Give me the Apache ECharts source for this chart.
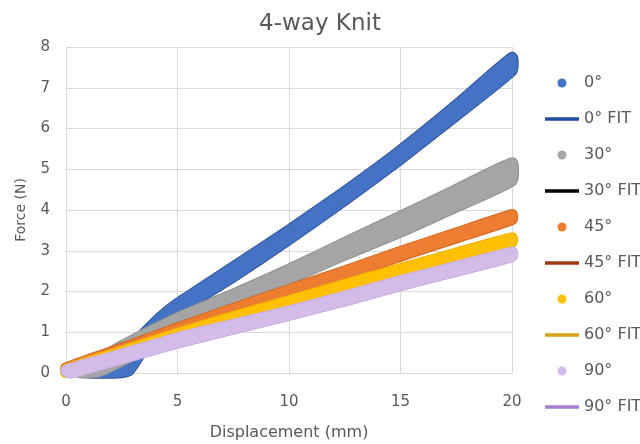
<!DOCTYPE html>
<html>
<head>
<meta charset="utf-8">
<script src="https://cdn.jsdelivr.net/npm/echarts@6/dist/echarts.min.js"></script>
<style>
  html, body { margin: 0; padding: 0; background: #ffffff; }
  #chart { width: 640px; height: 444px; }
</style>
</head>
<body>
<div id="chart"></div>
<script>
// Axis ticks
const xTicks = [0, 5, 10, 15, 20];
const yTicks = [0, 1, 2, 3, 4, 5, 6, 7, 8];

// Measured force (N) vs displacement (mm): loading branch, then unloading branch
const load0 = [[1.1, 0], [2.2, 0.02], [2.7, 0.3], [3.3, 0.85], [4.2, 1.35], [5, 1.7], [7.5, 2.6], [10, 3.5], [12.5, 4.45], [15, 5.46], [17.5, 6.57], [20, 7.74]];
const unload0 = [[20, 7.42], [17.5, 6.32], [15, 5.25], [12.5, 4.24], [10, 3.28], [7.5, 2.36], [5, 1.5], [4, 1.05], [3.3, 0.45], [2.8, 0.05], [2.2, 0], [1.4, 0]];

const load30 = [[0.5, 0.04], [1.5, 0.35], [2.5, 0.66], [3.5, 0.95], [5, 1.35], [7.5, 1.93], [10, 2.54], [12.5, 3.2], [15, 3.84], [17.5, 4.5], [20, 5.15]];
const unload30 = [[20, 4.72], [17.5, 4.08], [15, 3.46], [12.5, 2.9], [10, 2.3], [7.5, 1.72], [5, 1.13], [3.5, 0.62], [2.5, 0.3], [1.5, 0.04], [0.8, 0]];

const load45 = [[0, 0.12], [1, 0.32], [2.5, 0.6], [5, 1.1], [7.5, 1.58], [10, 2.04], [12.5, 2.5], [15, 2.98], [17.5, 3.43], [20, 3.88]];
const unload45 = [[20, 3.77], [17.5, 3.32], [15, 2.87], [12.5, 2.4], [10, 1.95], [7.5, 1.5], [5, 1.02], [2.5, 0.52], [1, 0.24], [0, 0.05]];

const load60 = [[0, 0.08], [1, 0.27], [2.5, 0.53], [5, 0.97], [7.5, 1.38], [10, 1.77], [12.5, 2.17], [15, 2.56], [17.5, 2.94], [20, 3.31]];
const unload60 = [[20, 3.22], [17.5, 2.85], [15, 2.47], [12.5, 2.08], [10, 1.69], [7.5, 1.3], [5, 0.89], [2.5, 0.45], [1, 0.2], [0, 0.02]];

const load90 = [[0, 0.06], [1, 0.23], [2.5, 0.46], [5, 0.86], [7.5, 1.19], [10, 1.52], [12.5, 1.88], [15, 2.26], [17.5, 2.61], [20, 2.96]];
const unload90 = [[20, 2.86], [17.5, 2.5], [15, 2.15], [12.5, 1.77], [10, 1.42], [7.5, 1.08], [5, 0.74], [2.5, 0.35], [1, 0.12], [0.2, 0]];

// Linear fits (end points)
const fit0 = [[3, 0.6], [20, 7.58]];
const fit30 = [[0.5, 0.05], [20, 4.94]];
const fit45 = [[0, 0.08], [20, 3.82]];
const fit60 = [[0, 0.05], [20, 3.26]];
const fit90 = [[0.1, 0.03], [20, 2.91]];

const names = ['0°', '30°', '45°', '60°', '90°'];
const fitNames = ['0° FIT', '30° FIT', '45° FIT', '60° FIT', '90° FIT'];

const FONT = '"DejaVu Sans", sans-serif';
const TEXT = '#595959';
const GRID = '#D9D9D9';

const dotColors = ['#4472C4', '#A5A5A5', '#ED7D31', '#FFC000', '#D4BCE8'];
const dotEdges = ['#2F5597', '#909090', '#D2661F', '#F2B200', '#C9AEE0'];
const fitColors = ['#1F4E9E', '#000000', '#9E3A12', '#D6A21C', '#A57FD0'];

const loads = [load0, load30, load45, load60, load90];
const unloads = [unload0, unload30, unload45, unload60, unload90];
const fits = [fit0, fit30, fit45, fit60, fit90];

// Dense marker cloud drawn as a filled loop of round-joined marker-width stroke
function bandSeries(i) {
  const loop = loads[i].concat(unloads[i]);
  return {
    name: names[i],
    type: 'custom',
    coordinateSystem: 'cartesian2d',
    silent: true,
    z: 2,
    itemStyle: { color: dotColors[i] },
    encode: { x: 0, y: 1 },
    data: loop,
    renderItem: function (params, api) {
      if (params.dataIndex !== 0) return null;
      const pts = loop.map(function (p) { return api.coord(p); });
      return {
        type: 'group',
        children: [
          { type: 'polygon', shape: { points: pts, smooth: 0.15 },
            style: { fill: dotEdges[i], stroke: dotEdges[i], lineWidth: 11.5, lineJoin: 'round' } },
          { type: 'polygon', shape: { points: pts, smooth: 0.15 },
            style: { fill: dotColors[i], stroke: dotColors[i], lineWidth: 9.5, lineJoin: 'round' } }
        ]
      };
    }
  };
}

function fitSeries(i) {
  return {
    name: fitNames[i],
    type: 'line',
    z: 1,
    silent: true,
    symbol: 'none',
    data: fits[i],
    lineStyle: { color: fitColors[i], width: 2.5 },
    itemStyle: { color: fitColors[i] }
  };
}

const series = [];
const legendData = [];
for (let i = 0; i < names.length; i++) {
  series.push(bandSeries(i));
  series.push(fitSeries(i));
  legendData.push({ name: names[i], icon: 'circle', itemStyle: { color: dotColors[i], borderWidth: 0 } });
  legendData.push({ name: fitNames[i], icon: 'path://M0,0H34V3.6H0Z', itemStyle: { color: fitColors[i], borderWidth: 0 } });
}

const chart = echarts.init(document.getElementById('chart'), null, { renderer: 'canvas' });
chart.setOption({
  animation: false,
  backgroundColor: '#ffffff',
  textStyle: { fontFamily: FONT },
  title: {
    text: '4-way Knit',
    left: 'center',
    top: 8,
    textStyle: { fontFamily: FONT, fontSize: 23, fontWeight: 'normal', color: TEXT }
  },
  legend: {
    orient: 'vertical',
    left: 540,
    top: 70,
    itemWidth: 34,
    itemHeight: 9,
    itemGap: 20,
    selectedMode: false,
    textStyle: { fontFamily: FONT, fontSize: 16, color: TEXT },
    data: legendData
  },
  grid: { left: 66, right: 128, top: 47, bottom: 71, outerBoundsMode: 'none' },
  xAxis: {
    type: 'value',
    min: xTicks[0],
    max: xTicks[xTicks.length - 1],
    interval: xTicks[1] - xTicks[0],
    name: 'Displacement (mm)',
    nameLocation: 'middle',
    nameGap: 52,
    nameTextStyle: { fontFamily: FONT, fontSize: 16, color: TEXT },
    axisLine: { show: true, lineStyle: { color: GRID, width: 1 } },
    axisTick: { show: false },
    axisLabel: { fontFamily: FONT, fontSize: 15, color: TEXT, margin: 22 },
    splitLine: { show: true, lineStyle: { color: GRID, width: 1 } }
  },
  yAxis: {
    type: 'value',
    min: yTicks[0],
    max: yTicks[yTicks.length - 1],
    interval: yTicks[1] - yTicks[0],
    name: 'Force (N)',
    nameLocation: 'middle',
    nameGap: 38,
    nameTextStyle: { fontFamily: FONT, fontSize: 14, color: TEXT },
    axisLine: { show: true, lineStyle: { color: GRID, width: 1 } },
    axisTick: { show: false },
    axisLabel: { fontFamily: FONT, fontSize: 15, color: TEXT, margin: 16 },
    splitLine: { show: true, lineStyle: { color: GRID, width: 1 } }
  },
  series: series
});
</script>
</body>
</html>
